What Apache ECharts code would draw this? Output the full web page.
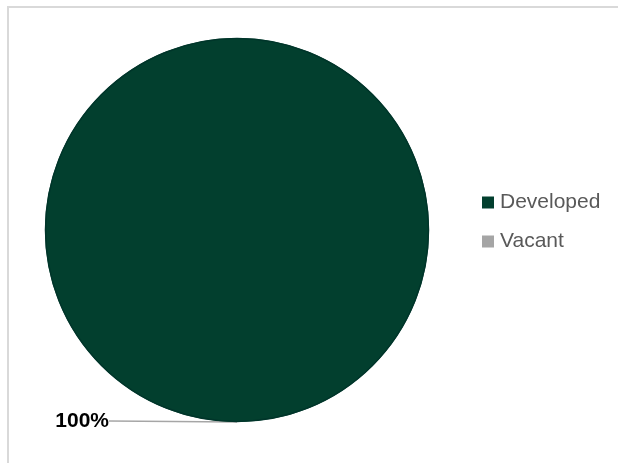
<!DOCTYPE html>
<html>
<head>
<meta charset="utf-8">
<script src="https://cdn.jsdelivr.net/npm/echarts@6/dist/echarts.min.js"></script>
<style>
html,body{margin:0;padding:0;background:#fff;}
#c{width:618px;height:463px;}
</style>
</head>
<body>
<div id="c"></div>
<script>
const categories = ['Developed', 'Vacant'];
const values = [100, 0];
const labels = ['100%', ''];
const colors = ['#023f2e', '#a5a5a5'];

const chart = echarts.init(document.getElementById('c'), null, {renderer: 'canvas'});
const data = categories.map((name, i) => ({
  name: name,
  value: values[i],
  itemStyle: {color: colors[i]},
  label: {show: labels[i] !== '', formatter: labels[i]},
  labelLine: {show: labels[i] !== ''}
}));

chart.setOption({
  animation: false,
  backgroundColor: '#fff',
  graphic: [{
    type: 'rect',
    shape: {x: 8, y: 7, width: 640, height: 480},
    style: {fill: 'none', stroke: '#d9d9d9', lineWidth: 2},
    z: 0
  }, {
    type: 'circle',
    shape: {cx: 237, cy: 230, r: 191.5},
    style: {fill: 'none', stroke: '#00352a', lineWidth: 1.5},
    z: 10
  }],
  legend: {
    orient: 'vertical',
    left: 477,
    top: 187,
    icon: 'rect',
    itemWidth: 12,
    itemHeight: 12,
    itemGap: 18,
    itemStyle: {borderWidth: 0},
    textStyle: {fontFamily: 'Liberation Sans', fontSize: 21, color: '#595959', padding: [0, 0, 0, 1]},
    data: categories
  },
  series: [{
    type: 'pie',
    center: [237, 230],
    radius: [0, 192],
    startAngle: 90,
    clockwise: true,
    stillShowZeroSum: false,
    itemStyle: {borderWidth: 0},
    emphasis: {disabled: true},
    label: {
      position: 'outside',
      fontFamily: 'Liberation Sans',
      fontWeight: 'bold',
      fontSize: 21,
      color: '#000'
    },
    labelLine: {
      show: true,
      length: 0,
      length2: 0,
      lineStyle: {color: '#a6a6a6', width: 1.5}
    },
    labelLayout: function (params) {
      if (params.dataIndex === 0) {
        return {x: 109, y: 421, align: 'right', verticalAlign: 'middle'};
      }
      return {};
    },
    data: data
  }]
});
</script>
</body>
</html>
